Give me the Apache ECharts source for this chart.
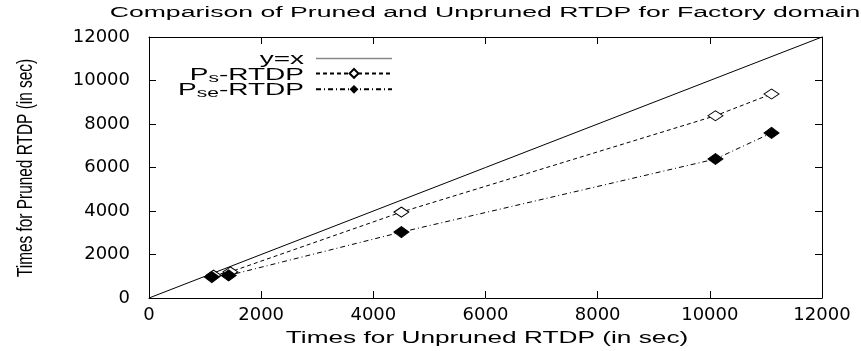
<!DOCTYPE html>
<html><head><meta charset="utf-8">
<script src="https://cdn.jsdelivr.net/npm/echarts@6/dist/echarts.min.js"></script>
<style>html,body{margin:0;padding:0;background:#fff}#c{width:861px;height:351px}</style>
</head><body><div id="c"></div>
<script>
var titleText = 'Comparison of Pruned and Unpruned RTDP for Factory domain';
var xAxisName = 'Times for Unpruned RTDP (in sec)';
var yAxisName = 'Times for Pruned RTDP (in sec)';
var seriesNames = ['y=x', 'Ps-RTDP', 'Pse-RTDP'];
var legendLabels = ['y=x', 'P{s|s}-RTDP', 'P{s|se}-RTDP'];
var diagX = [0, 12000];
var diagY = [0, 12000];
var psX = [1150, 1450, 4500, 10100, 11100];
var psY = [1050, 1200, 3950, 8380, 9380];
var pseX = [1120, 1420, 4500, 10100, 11100];
var pseY = [960, 1040, 3030, 6390, 7590];
var axisMin = 0, axisMax = 12000, axisStep = 2000;

function zip(a, b) { return a.map(function (v, i) { return [v, b[i]]; }); }
var font = 'Liberation Sans, Arial, Helvetica, sans-serif';
var wide = 'DejaVu Sans, Verdana, sans-serif';
var chart = echarts.init(document.getElementById('c'));
var tickCommon = { show: true, inside: true, length: 7, lineStyle: { color: '#000', width: 1 } };
var lbl = { fontFamily: wide, fontSize: 18, color: '#000', formatter: function (v) { return String(v); } };
var legendRowsY = [60, 76, 91];
var legendGraphics = legendLabels.map(function (t, i) {
  return { type: 'text', x: 304, y: legendRowsY[i], scaleX: 1.75, silent: true,
    style: { text: t, font: '16px ' + font, fill: '#000', align: 'right', verticalAlign: 'middle',
      rich: { s: { fontFamily: font, fontSize: 12, fill: '#000', verticalAlign: 'bottom', padding: [6, 0, 0, 0] } } } };
});
chart.setOption({
  animation: false,
  grid: { left: 149, right: 39, top: 37, bottom: 53, containLabel: false },
  legend: {
    orient: 'vertical', right: 468, top: 53, align: 'right', padding: 0,
    itemWidth: 76, itemHeight: 11, itemGap: 5,
    data: [
      { name: seriesNames[0], itemStyle: { color: 'rgba(0,0,0,0)', borderWidth: 0 }, lineStyle: { color: '#888', width: 1.5 } },
      { name: seriesNames[1] },
      { name: seriesNames[2] }
    ],
    formatter: function () { return ''; },
    textStyle: { fontSize: 1, padding: 0 }
  },
  graphic: [
    { type: 'text', x: 485, y: 13, scaleX: 1.9, silent: true,
      style: { text: titleText, font: '14px ' + font, fill: '#000', align: 'center', verticalAlign: 'middle' } },
    { type: 'text', x: 487, y: 339, scaleX: 1.64, silent: true,
      style: { text: xAxisName, font: '16px ' + font, fill: '#000', align: 'center', verticalAlign: 'middle' } },
    { type: 'text', x: 26, y: 168, rotation: Math.PI / 2, scaleX: 0.70, silent: true,
      style: { text: yAxisName, font: '22px ' + font, fill: '#000', align: 'center', verticalAlign: 'middle' } }
  ].concat(legendGraphics),
  xAxis: [
    { type: 'value', min: axisMin, max: axisMax, interval: axisStep, position: 'bottom',
      axisLine: { show: true, onZero: false, lineStyle: { color: '#000', width: 1 } },
      axisTick: tickCommon, splitLine: { show: false },
      axisLabel: Object.assign({ margin: 8 }, lbl) },
    { type: 'value', min: axisMin, max: axisMax, interval: axisStep, position: 'top',
      axisLine: { show: true, onZero: false, lineStyle: { color: '#000', width: 1 } },
      axisTick: tickCommon, splitLine: { show: false }, axisLabel: { show: false } }
  ],
  yAxis: [
    { type: 'value', min: axisMin, max: axisMax, interval: axisStep, position: 'left',
      axisLine: { show: true, onZero: false, lineStyle: { color: '#000', width: 1 } },
      axisTick: tickCommon, splitLine: { show: false },
      axisLabel: Object.assign({ margin: 19 }, lbl) },
    { type: 'value', min: axisMin, max: axisMax, interval: axisStep, position: 'right',
      axisLine: { show: true, onZero: false, lineStyle: { color: '#000', width: 1 } },
      axisTick: tickCommon, splitLine: { show: false }, axisLabel: { show: false } }
  ],
  series: [
    { name: seriesNames[0], type: 'line', data: zip(diagX, diagY), showSymbol: false, symbol: 'none',
      lineStyle: { color: '#000', width: 1 }, itemStyle: { color: '#000' } },
    { name: seriesNames[1], type: 'line', data: zip(psX, psY), symbol: 'diamond', symbolSize: [15, 10],
      lineStyle: { color: '#000', width: 1, type: [4, 3] },
      itemStyle: { color: '#fff', borderColor: '#000', borderWidth: 1 } },
    { name: seriesNames[2], type: 'line', data: zip(pseX, pseY), symbol: 'diamond', symbolSize: [15, 11],
      lineStyle: { color: '#000', width: 1, type: [5, 3, 1, 3] },
      itemStyle: { color: '#000', borderColor: '#000' } }
  ]
});
</script></body></html>
